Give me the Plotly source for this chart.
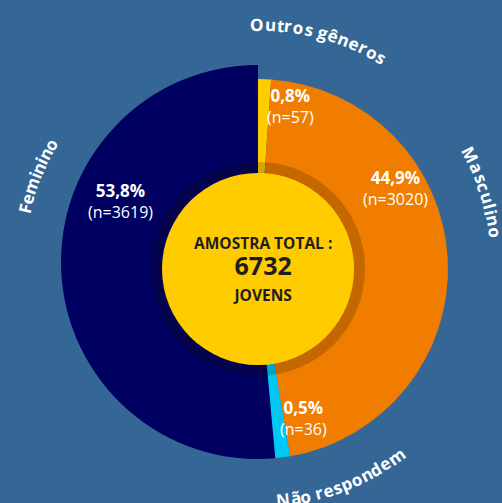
import math
import plotly.graph_objects as go

W, H = 502, 503

# data
categories = ["Outros gêneros", "Masculino", "Não respondem", "Feminino"]
counts = [57, 3020, 36, 3619]
percent_labels = ["0,8%", "44,9%", "0,5%", "53,8%"]
# angular share of each slice as drawn in the reference (the two tiny groups are drawn wider)
slice_share = [1.1, 46.2, 1.25, 51.45]
total_label = "6732"

colors = ["#FFCC00", "#F07D00", "#00C8F5", "#000060"]
bg = "#346796"
clear = "rgba(0,0,0,0)"
font = "Open Sans"


def domain(cx, cy, r):
    # pixel circle -> paper domain (margins are 0)
    return dict(x=[(cx - r) / W, (cx + r) / W], y=[1 - (cy + r) / H, 1 - (cy - r) / H])


def pie(values, cols, dom, hole=0):
    return go.Pie(values=values, labels=list(range(len(values))), sort=False,
                  direction="clockwise", rotation=0, hole=hole,
                  marker=dict(colors=cols, line=dict(width=0)),
                  textinfo="none", hoverinfo="skip", domain=dom, showlegend=False)


fig = go.Figure()
# Feminino is drawn a bit bigger and higher than the rest
fig.add_trace(pie(slice_share, [clear, clear, clear, colors[3]], domain(258, 262, 197)))
fig.add_trace(pie(slice_share, colors[:3] + [clear], domain(258, 269, 190)))
# dark shadow ring round the centre disc
fig.add_trace(pie([1], ["rgba(25,15,0,0.2)"], domain(258, 269, 107), hole=96 / 107))
fig.add_trace(pie([1], ["#FFCC00"], domain(258, 269, 96)))

annotations = []


def label(x, y, text, size, color="white"):
    annotations.append(dict(x=x / W, y=1 - y / H, xref="paper", yref="paper", text=text,
                            showarrow=False, xanchor="center", yanchor="middle",
                            font=dict(family=font, size=size, color=color)))


# percent + count labels (two lines in one annotation)
pos = [(290, 106.5), (395, 188), (303, 418), (120, 201)]
for (x, y), p, n in zip(pos, percent_labels, counts):
    label(x, y, "<span style='font-size:17px'><b>%s</b></span><br>(n=%d)" % (p, n), 16)

# centre text, one block of three lines
label(263, 268.5,
      "<span style='font-size:15.5px'><b>AMOSTRA TOTAL :</b></span><br>"
      "<span style='font-size:25px'><b>%s</b></span><br>"
      "<span style='font-size:15.5px'><b>JOVENS</b></span>" % total_label,
      20, "#1e1e1e")

# curved category names, one annotation per letter
CHAR_W = {" ": 0.26, "O": 0.79, "u": 0.63, "t": 0.43, "r": 0.46, "o": 0.62, "s": 0.51,
          "g": 0.55, "ê": 0.59, "e": 0.59, "n": 0.63, "F": 0.56, "m": 0.95, "i": 0.30,
          "M": 0.92, "a": 0.60, "ã": 0.60, "c": 0.50, "l": 0.30, "N": 0.80, "p": 0.63,
          "d": 0.63}


def arc_text(text, cx, cy, r, a0, a1, size, inward=False):
    widths = [CHAR_W.get(ch, 0.6) for ch in text]
    span = sum(widths) - widths[0] / 2 - widths[-1] / 2
    run = 0
    for ch, w in zip(text, widths):
        c = (run + w / 2 - widths[0] / 2) / span
        run += w
        if ch == " ":
            continue
        a = a0 + c * (a1 - a0)
        x = cx + r * math.sin(math.radians(a))
        y = cy - r * math.cos(math.radians(a))
        annotations.append(dict(x=x / W, y=1 - y / H, xref="paper", yref="paper",
                                text="<b>" + ch + "</b>", showarrow=False,
                                xanchor="center", yanchor="middle",
                                textangle=a - 180 if inward else a,
                                font=dict(family=font, size=size, color="white")))


arc_text(categories[0], 258, 267, 243, -0.2, 30.5, 17)
arc_text(categories[1], 258, 265, 239, 62.5, 82.3, 17)
arc_text(categories[2], 258, 265, 236, 173.8, 144.2, 17, inward=True)
arc_text(categories[3], 258, 265, 240, -76.3, -59.8, 17)

fig.update_layout(width=W, height=H, margin=dict(l=0, r=0, t=0, b=0),
                  paper_bgcolor=bg, plot_bgcolor=bg, showlegend=False,
                  annotations=annotations)

# drop the page's default body margin so the figure sits at the window's corner
fig.write_html("out.html", config={"displayModeBar": False},
               post_script="document.body.style.margin='0';")
